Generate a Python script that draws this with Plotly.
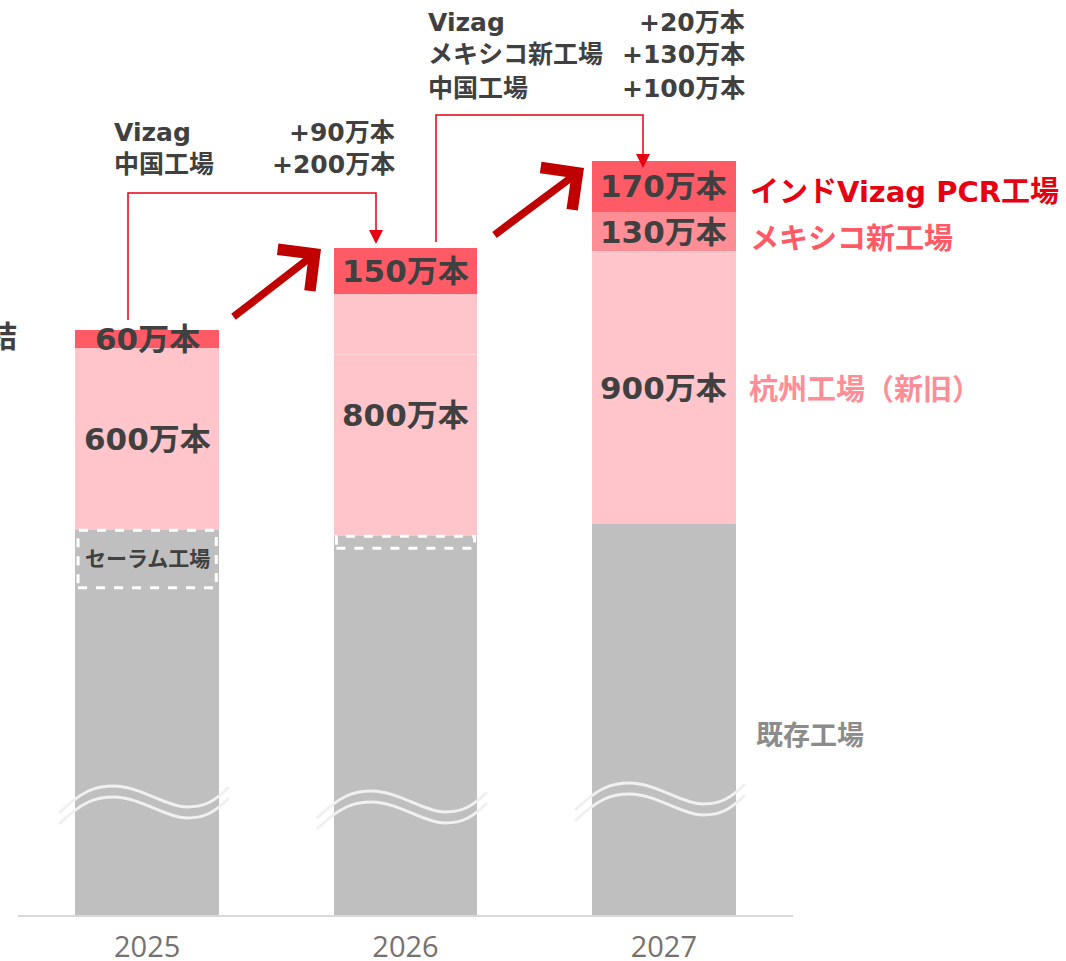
import plotly.graph_objects as go

W, H = 1066, 961

# data (万本) - gray base is on a broken axis
years = ["2025", "2026", "2027"]
existing = [1080, 1210, 1290]      # 既存工場
salem = [190, 40, 0]               # セーラム工場
hangzhou_old = [600, 600, 900]     # 杭州工場
hangzhou_new = [0, 200, 0]
mexico = [0, 0, 130]               # メキシコ新工場
vizag = [60, 150, 170]             # インドVizag PCR工場

left_adds = [("Vizag", "+90万本"), ("中国工場", "+200万本")]
right_adds = [("Vizag", "+20万本"), ("メキシコ新工場", "+130万本"), ("中国工場", "+100万本")]

GRAY = "#bfbfbf"
PINK = "#ffc5ca"
MID = "#ff8d96"
RED = "#ff5b66"
DARK = "#404040"
LINE_RED = "#e60012"
ARROW_RED = "#c00000"
FONT = "DejaVu Sans, Noto Sans CJK JP"
BAR_W = 0.555


def px(x):
    return x / W


def py(y):
    return 1 - y / H


def bold(size, color=DARK):
    return dict(size=size, color=color, family=FONT, weight="bold")


def note(xp, yp, text, anchor, font):
    return dict(x=px(xp), y=py(yp), xref="paper", yref="paper", text=text,
                xanchor=anchor, yanchor="middle", showarrow=False, font=font)


x = list(range(len(years)))
fig = go.Figure()
for vals, col, name in [(existing, GRAY, "既存工場"), (salem, GRAY, "セーラム工場"),
                        (hangzhou_old, PINK, "杭州工場"), (hangzhou_new, PINK, "杭州工場(新)"),
                        (mexico, MID, "メキシコ新工場"), (vizag, RED, "Vizag")]:
    fig.add_trace(go.Bar(x=x, y=vals, name=name, marker_color=col,
                         marker_line_width=0, width=BAR_W, hoverinfo="skip"))

annotations = []
shapes = []

# segment labels
for i in x:
    base = existing[i] + salem[i]
    hz = hangzhou_old[i] + hangzhou_new[i]
    annotations.append(dict(x=i, y=base + hz / 2, xref="x", yref="y", text=f"{hz}万本",
                            yanchor="middle", showarrow=False, font=bold(31)))
    if hangzhou_new[i]:
        # faint seam between old and new Hangzhou capacity
        shapes.append(dict(type="line", xref="x", yref="y",
                           x0=i - BAR_W / 2, x1=i + BAR_W / 2,
                           y0=base + hangzhou_old[i], y1=base + hangzhou_old[i],
                           line=dict(color="#fdd7da", width=1)))
    top = base + hz
    if mexico[i]:
        annotations.append(dict(x=i, y=top + mexico[i] / 2, xref="x", yref="y", text=f"{mexico[i]}万本",
                                yanchor="middle", showarrow=False, font=bold(31)))
        top += mexico[i]
    if vizag[i]:
        annotations.append(dict(x=i, y=top + vizag[i] / 2, xref="x", yref="y", text=f"{vizag[i]}万本",
                                yanchor="middle", showarrow=False, font=bold(31)))
    if salem[i]:
        # dashed outline of the セーラム segment
        shapes.append(dict(type="rect", xref="x", yref="y",
                           x0=i - BAR_W / 2 + 0.01, x1=i + BAR_W / 2 - 0.01,
                           y0=existing[i], y1=existing[i] + salem[i],
                           line=dict(color="white", width=3, dash="dash")))

annotations.append(dict(x=0, y=existing[0] + salem[0] / 2, xref="x", yref="y", text="セーラム工場",
                        yanchor="middle", showarrow=False, font=bold(21)))

# legend-like labels on the right
annotations.append(note(748, 192, "インドVizag PCR工場", "left", bold(29, LINE_RED)))
annotations.append(note(748, 239, "メキシコ新工場", "left", bold(29, "#ff5a66")))
annotations.append(note(747, 390, "杭州工場（新旧）", "left", bold(29, "#ff8c96")))
annotations.append(note(754, 735, "既存工場", "left", bold(27, "#8c8c8c")))

# increment notes
for k, (lbl, val) in enumerate(left_adds):
    yy = 133 + k * 32
    annotations.append(note(112, yy, lbl, "left", bold(25)))
    annotations.append(note(397, yy, val, "right", bold(25)))
for k, (lbl, val) in enumerate(right_adds):
    yy = 22 + k * 33
    annotations.append(note(426, yy, lbl, "left", bold(25)))
    annotations.append(note(747, yy, val, "right", bold(25)))

# cut-off heading char at the left edge
annotations.append(note(-15, 337, "結", "left", bold(30)))

# thin red connectors
for pts, tip in [([(128, 320), (128, 193), (376, 193), (376, 232)], (376, 244)),
                 ([(436, 242), (436, 115), (643, 115), (643, 156)], (643, 168))]:
    path = "M " + " L ".join(f"{px(a)},{py(b)}" for a, b in pts)
    shapes.append(dict(type="path", xref="paper", yref="paper", path=path,
                       line=dict(color=LINE_RED, width=1.5)))
    tx, ty = tip
    tri = f"M {px(tx - 7)},{py(ty - 14)} L {px(tx + 7)},{py(ty - 14)} L {px(tx)},{py(ty)} Z"
    shapes.append(dict(type="path", xref="paper", yref="paper", path=tri,
                       fillcolor=LINE_RED, line=dict(width=0)))

# thick growth arrows
for tail, tip in [((232, 318), (321, 249)), ((493, 236), (584, 168))]:
    annotations.append(dict(x=px(tip[0]), y=py(tip[1]), xref="paper", yref="paper",
                            ax=tail[0] - tip[0], ay=tail[1] - tip[1], axref="pixel", ayref="pixel",
                            showarrow=True, arrowhead=4, arrowsize=1.35, arrowwidth=7.5,
                            arrowcolor=ARROW_RED, text=""))

# axis-break waves
for cx, off in zip([147, 405, 663], [0, 5, -3]):
    for d in (0, 11):
        cy = 799 + off + d
        p = [(cx - 88, cy + 14), (cx - 65, cy - 8), (cx - 52, cy - 13), (cx - 33, cy - 13),
             (cx - 8, cy - 13), (cx + 20, cy + 8), (cx + 40, cy + 8),
             (cx + 58, cy + 8), (cx + 68, cy + 2), (cx + 82, cy - 12)]
        path = (f"M {px(p[0][0])},{py(p[0][1])} "
                f"C {px(p[1][0])},{py(p[1][1])} {px(p[2][0])},{py(p[2][1])} {px(p[3][0])},{py(p[3][1])} "
                f"C {px(p[4][0])},{py(p[4][1])} {px(p[5][0])},{py(p[5][1])} {px(p[6][0])},{py(p[6][1])} "
                f"C {px(p[7][0])},{py(p[7][1])} {px(p[8][0])},{py(p[8][1])} {px(p[9][0])},{py(p[9][1])}")
        shapes.append(dict(type="path", xref="paper", yref="paper", path=path,
                           line=dict(color="#f0f0f0", width=3)))

fig.update_layout(
    width=W, height=H, barmode="stack", showlegend=False,
    plot_bgcolor="white", paper_bgcolor="white",
    margin=dict(l=0, r=0, t=0, b=0),
    xaxis=dict(domain=[18 / W, 793 / W], range=[-0.5, 2.5], tickvals=x, ticktext=years,
               showline=True, linecolor="#d9d9d9", linewidth=2, showgrid=False, zeroline=False,
               ticks="", tickfont=dict(size=29, color="#767171", family="Open Sans"),
               ticklabelstandoff=5, automargin=False, fixedrange=True),
    yaxis=dict(domain=[1 - 915 / H, 1], range=[0, 915 / 0.303], visible=False,
               showgrid=False, zeroline=False, automargin=False, fixedrange=True),
    annotations=annotations, shapes=shapes,
)

fig.write_html("out.html", config={"displayModeBar": False},
               post_script="document.body.style.margin='0';document.body.style.overflow='hidden';")
